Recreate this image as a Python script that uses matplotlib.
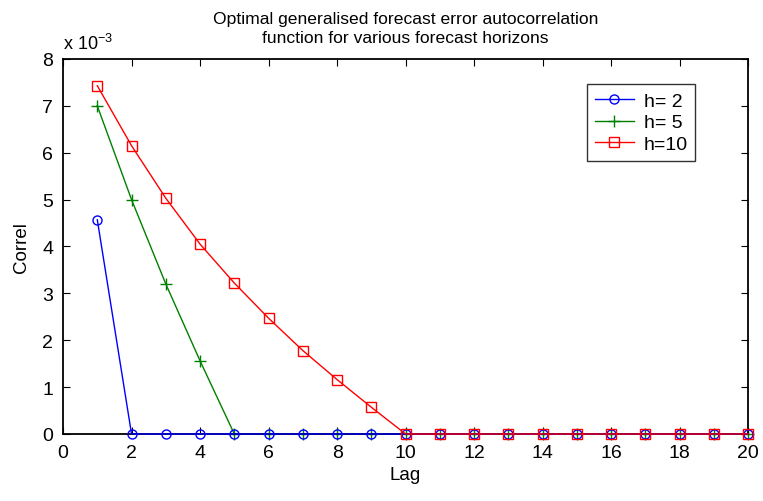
import numpy as np
import matplotlib.pyplot as plt

plt.rcParams['font.family'] = ['Liberation Sans', 'DejaVu Sans']

lags = list(range(1, 21))
h2 = [4.57] + [0.0] * 19
h5 = [7.00, 5.00, 3.20, 1.56] + [0.0] * 16
h10 = [7.43, 6.15, 5.03, 4.05, 3.22, 2.47, 1.78, 1.16, 0.57] + [0.0] * 11

fig = plt.figure(figsize=(7.63, 5.02), dpi=100)
ax = fig.add_axes([0.0826, 0.1335, 0.898, 0.747])

ax.plot(lags, h2, color='blue', marker='o', markersize=6.5, mfc='none', mew=1.0,
        lw=1.0, label='h= 2', zorder=3, clip_on=False)
ax.plot(lags, h5, color='green', marker='+', markersize=9, mew=1.0,
        lw=1.0, label='h= 5', zorder=2, clip_on=False)
ax.plot(lags, h10, color='red', marker='s', markersize=6.5, mfc='none', mew=1.0,
        lw=1.0, label='h=10', zorder=4, clip_on=False)

ax.set_xlim(0, 20)
ax.set_ylim(0, 8)
ax.set_xticks(range(0, 21, 2))
ax.set_yticks(range(0, 9))
ax.tick_params(direction='in', top=True, right=True, labelsize=14, length=5,
               width=0.8, pad=7)
for s in ax.spines.values():
    s.set_linewidth(1.3)

ax.set_xlabel('Lag', fontsize=13.5, labelpad=4)
ax.set_ylabel('Correl', fontsize=13.5, labelpad=9)
ax.set_title('Optimal generalised forecast error autocorrelation\nfunction for various forecast horizons',
             fontsize=12.6, pad=12, linespacing=1.35)
ax.text(0.0, 1.015, r'x 10$^{\mathregular{-3}}$', transform=ax.transAxes,
        fontsize=13, ha='left', va='bottom')

leg = ax.legend(loc='upper right', bbox_to_anchor=(0.923, 0.933), fontsize=14,
                frameon=True, fancybox=False, edgecolor='black',
                handlelength=2.0, borderpad=0.4, labelspacing=0.22,
                handletextpad=0.5, borderaxespad=0)
leg.get_frame().set_linewidth(1.0)

fig.savefig('out.png', dpi=100)
